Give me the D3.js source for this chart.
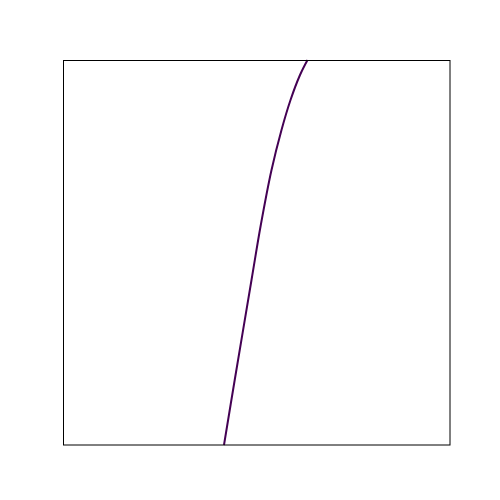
<!DOCTYPE html>
<html><head><meta charset="utf-8">
<script src="https://cdn.jsdelivr.net/npm/d3@7"></script>
<style>body{margin:0;background:#fff}</style>
</head><body>
<svg id="c" width="500" height="500"></svg>
<script>
const xs = [0.4160, 0.4437, 0.4871, 0.5111, 0.5388, 0.5646, 0.5879, 0.6124, 0.6318];
const ys = [0.0, 0.1688, 0.4286, 0.5714, 0.7143, 0.8182, 0.8961, 0.9610, 1.0];

const svg = d3.select("#c");
const L = 63, R = 450, T = 60, B = 445;
const x = d3.scaleLinear().domain([0, 1]).range([L, R]);
const y = d3.scaleLinear().domain([0, 1]).range([B, T]);

svg.append("rect").attr("width", 500).attr("height", 500).attr("fill", "#fff");

const pts = xs.map((v, i) => [v, ys[i]]);
svg.append("path")
  .datum(pts)
  .attr("fill", "none")
  .attr("stroke", "#440154")
  .attr("stroke-width", 2)
  .attr("d", d3.line().x(d => x(d[0])).y(d => y(d[1])).curve(d3.curveCatmullRom.alpha(0.5)));

svg.append("rect")
  .attr("x", L + 0.5).attr("y", T + 0.5)
  .attr("width", R - L - 0.5).attr("height", B - T - 0.5)
  .attr("fill", "none").attr("stroke", "#000").attr("stroke-width", 1);
</script>
</body></html>
